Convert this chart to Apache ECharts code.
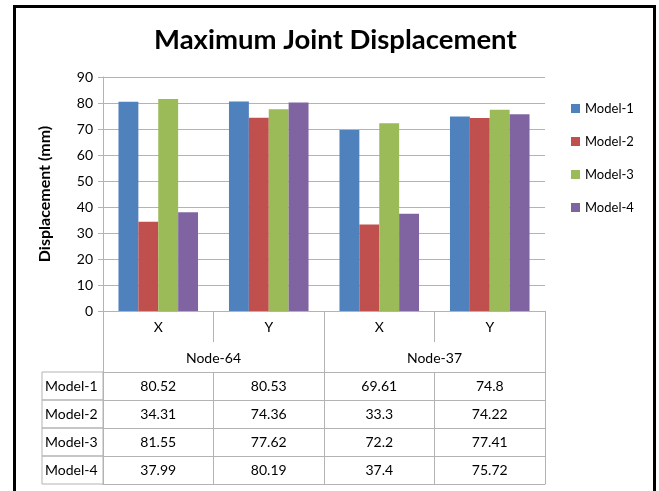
<!DOCTYPE html>
<html>
<head>
<meta charset="utf-8">
<script src="https://cdn.jsdelivr.net/npm/echarts@6/dist/echarts.min.js"></script>
<style>
  html, body { margin: 0; padding: 0; background: #fff; }
  #chart { width: 659px; height: 491px; }
</style>
</head>
<body>
<div id="chart"></div>
<script>
// Joint displacement (mm) per model, for each node / direction
const directions = ['X', 'Y', 'X', 'Y'];
const nodes = ['Node-64', 'Node-37'];
const modelNames = ['Model-1', 'Model-2', 'Model-3', 'Model-4'];
const model1 = [80.52, 80.53, 69.61, 74.8];
const model2 = [34.31, 74.36, 33.3, 74.22];
const model3 = [81.55, 77.62, 72.2, 77.41];
const model4 = [37.99, 80.19, 37.4, 75.72];
const yTicks = { min: 0, max: 90, step: 10 };

const modelValues = [model1, model2, model3, model4];
const colors = ['#4F81BD', '#C0504D', '#9BBB59', '#8064A2'];
const lineGray = '#b3b3b3';
const font = 'Lato';

const catRowH = 31;   // direction label row
const nodeRowH = 61;  // direction + node rows
const rowH = 28;      // data table rows
const headW = 61;     // width of the row-header column

// Data-table rows are extra category axes stacked under the plot;
// the row header is the axis name drawn as a bordered cell.
const tableAxes = modelValues.map((vals, i) => ({
  type: 'category',
  gridIndex: 0,
  position: 'bottom',
  offset: nodeRowH + rowH * i,
  data: directions,
  axisLine: { show: true, lineStyle: { color: lineGray } },
  axisTick: { show: true, length: rowH, interval: 0, lineStyle: { color: lineGray } },
  axisLabel: {
    interval: 0, margin: 7, fontSize: 14, color: '#000', fontFamily: font,
    formatter: (v, idx) => String(vals[idx])
  },
  name: '{cell|' + modelNames[i] + '}',
  nameLocation: 'start',
  nameGap: headW,
  nameTextStyle: {
    align: 'left', verticalAlign: 'top',
    rich: {
      cell: {
        fontSize: 14, color: '#000', fontFamily: font,
        width: headW - 3, height: rowH, lineHeight: rowH,
        padding: [0, 0, 0, 3], align: 'left',
        borderColor: lineGray, borderWidth: 1
      }
    }
  }
}));

const option = {
  backgroundColor: '#fff',
  animation: false,
  textStyle: { fontFamily: font },
  title: {
    text: 'Maximum Joint Displacement',
    left: 149,
    top: 21,
    textStyle: { fontSize: 27.5, fontWeight: 'bold', color: '#000', fontFamily: font }
  },
  legend: {
    orient: 'vertical',
    left: 566,
    top: 97,
    itemWidth: 9,
    itemHeight: 9,
    itemGap: 20,
    icon: 'rect',
    data: modelNames,
    textStyle: { fontSize: 13, color: '#000', fontFamily: font }
  },
  grid: { left: 103, right: 114, top: 77, bottom: 180, containLabel: false },
  yAxis: {
    type: 'value',
    min: yTicks.min, max: yTicks.max, interval: yTicks.step,
    name: 'Displacement (mm)',
    nameLocation: 'middle',
    nameRotate: 90,
    nameGap: 50,
    nameTextStyle: { fontSize: 16, fontWeight: 'bold', color: '#000', fontFamily: font },
    axisLine: { show: true, lineStyle: { color: lineGray } },
    axisTick: { show: true, length: 5, lineStyle: { color: lineGray } },
    axisLabel: { fontSize: 14, color: '#000', margin: 10, fontFamily: font },
    splitLine: { show: true, lineStyle: { color: lineGray } }
  },
  xAxis: [
    {
      type: 'category',
      position: 'bottom',
      data: directions,
      axisLine: { show: true, lineStyle: { color: lineGray } },
      axisTick: { show: true, length: catRowH, interval: 0, lineStyle: { color: lineGray } },
      axisLabel: { interval: 0, margin: 9, fontSize: 14, color: '#000', fontFamily: font }
    },
    {
      type: 'category',
      position: 'bottom',
      offset: 0,
      data: nodes,
      axisLine: { show: false },
      axisTick: { show: true, length: nodeRowH, interval: 0, lineStyle: { color: lineGray } },
      axisLabel: { interval: 0, margin: 40, fontSize: 14, color: '#000', fontFamily: font }
    },
    ...tableAxes,
    {
      // closing line under the last table row
      type: 'category',
      position: 'bottom',
      offset: nodeRowH + rowH * modelValues.length,
      data: directions,
      axisLine: { show: true, lineStyle: { color: lineGray } },
      axisTick: { show: false },
      axisLabel: { show: false }
    }
  ],
  series: modelValues.map((vals, i) => ({
    name: modelNames[i],
    type: 'bar',
    xAxisIndex: 0,
    yAxisIndex: 0,
    data: vals,
    itemStyle: { color: colors[i] },
    barGap: 0,
    barCategoryGap: '28%'
  })),
  graphic: [{
    type: 'rect',
    shape: { x: 14.5, y: 6.5, width: 640, height: 500 },
    style: { fill: 'none', stroke: '#000', lineWidth: 3 },
    silent: true
  }]
};

const chart = echarts.init(document.getElementById('chart'), null, { renderer: 'canvas' });
chart.setOption(option);
</script>
</body>
</html>
